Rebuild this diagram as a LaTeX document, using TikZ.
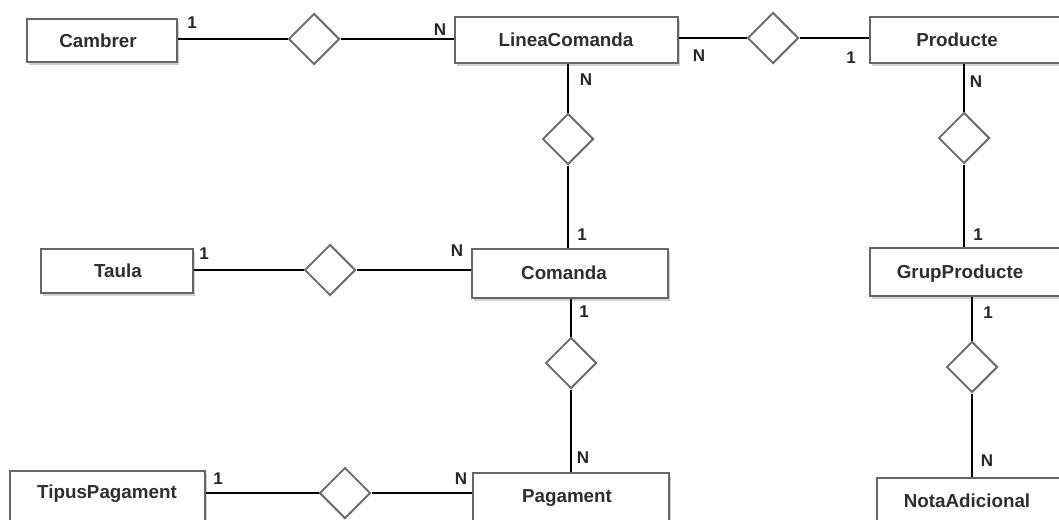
\documentclass[tikz,border=0pt]{standalone}
\usepackage{fontspec}
\setmainfont{Liberation Sans}
\usetikzlibrary{shapes.geometric,shadows}
\definecolor{boxline}{HTML}{666666}
\definecolor{dialine}{HTML}{707070}
\definecolor{txt}{HTML}{2E2E2E}
\tikzset{
  ent/.style={draw=boxline, line width=2pt, fill=white, rectangle, inner sep=0pt,
    drop shadow={shadow xshift=2pt, shadow yshift=-3pt, opacity=0.18, fill=black}},
  rel/.style={draw=dialine, line width=2pt, fill=white, diamond, aspect=1, inner sep=0pt,
    minimum width=51pt, minimum height=51pt},
  etext/.style={font=\bfseries\fontsize{18.8}{20}\selectfont, text=txt, inner sep=0pt,
    text height=13.4pt, text depth=0pt},
  card/.style={font=\bfseries\fontsize{17}{19}\selectfont, text=black!85, inner sep=0pt,
    text height=12.2pt, text depth=0pt},
  conn/.style={draw=black, line width=1.3pt}
}
\begin{document}
\begin{tikzpicture}[x=1pt,y=-1pt]
\clip (0,0) rectangle (1059,519);
\fill[white] (0,0) rectangle (1059,519);
% entities
\node[ent, minimum width=150pt, minimum height=43pt] (cam) at (102,40.5) {};
\node[ent, minimum width=223pt, minimum height=46pt] (lc) at (566.5,40) {};
\node[ent, minimum width=200pt, minimum height=46pt] (prod) at (970,40) {};
\node[ent, minimum width=152pt, minimum height=44pt] (tau) at (117,271) {};
\node[ent, minimum width=196pt, minimum height=49pt] (com) at (570,273.5) {};
\node[ent, minimum width=200pt, minimum height=48pt] (gp) at (970,272) {};
\node[ent, minimum width=195pt, minimum height=60pt] (tp) at (107.5,501) {};
\node[ent, minimum width=196pt, minimum height=60pt] (pag) at (571,503) {};
\node[ent, minimum width=193pt, minimum height=60pt] (nota) at (973.5,508) {};
% entity texts
\node[etext] (camT) at (98,41) {Cambrer};
\node[etext] (lcT) at (566,40) {LineaComanda};
\node[etext] (prodT) at (957,40) {Producte};
\node[etext] (tauT) at (118,270.5) {Taula};
\node[etext] (comT) at (564,272.5) {Comanda};
\node[etext] (gpT) at (960,272) {GrupProducte};
\node[etext] (tpT) at (107,492) {TipusPagament};
\node[etext] (pagT) at (567,496) {Pagament};
\node[etext] (notaT) at (967,501) {NotaAdicional};
% relationships
\node[rel] (d1) at (314,39) {};
\node[rel] (d2) at (773,38) {};
\node[rel] (d3) at (568,139) {};
\node[rel] (d4) at (964,138) {};
\node[rel] (d5) at (330,270) {};
\node[rel] (d6) at (571,363) {};
\node[rel] (d7) at (972,367) {};
\node[rel] (d8) at (345,493) {};
% connectors
\draw[conn] (d1.west -| cam.east) -- (d1.west);
\draw[conn] (d1.east) -- (d1.east -| lc.west);
\draw[conn] (d2.west -| lc.east) -- (d2.west);
\draw[conn] (d2.east) -- (d2.east -| prod.west);
\draw[conn] (d3.north |- lc.south) -- (d3.north);
\draw[conn] (d3.south) -- (d3.south |- com.north);
\draw[conn] (d4.north |- prod.south) -- (d4.north);
\draw[conn] (d4.south) -- (d4.south |- gp.north);
\draw[conn] (d5.west -| tau.east) -- (d5.west);
\draw[conn] (d5.east) -- (d5.east -| com.west);
\draw[conn] (d6.north |- com.south) -- (d6.north);
\draw[conn] (d6.south) -- (d6.south |- pag.north);
\draw[conn] (d7.north |- gp.south) -- (d7.north);
\draw[conn] (d7.south) -- (d7.south |- nota.north);
\draw[conn] (d8.west -| tp.east) -- (d8.west);
\draw[conn] (d8.east) -- (d8.east -| pag.west);
% cardinalities
\node[card] (c1) at (192,22) {1};
\node[card] (c2) at (440,29) {N};
\node[card] (c3) at (699,55) {N};
\node[card] (c4) at (851,57) {1};
\node[card] (c5) at (586,79) {N};
\node[card] (c6) at (976,81) {N};
\node[card] (c7) at (582,234) {1};
\node[card] (c8) at (978,234) {1};
\node[card] (c9) at (204,253) {1};
\node[card] (c10) at (457,250) {N};
\node[card] (c11) at (584,311) {1};
\node[card] (c12) at (988,312) {1};
\node[card] (c13) at (583,457) {N};
\node[card] (c14) at (987,460) {N};
\node[card] (c15) at (218,478) {1};
\node[card] (c16) at (461,478) {N};
\end{tikzpicture}
\end{document}
